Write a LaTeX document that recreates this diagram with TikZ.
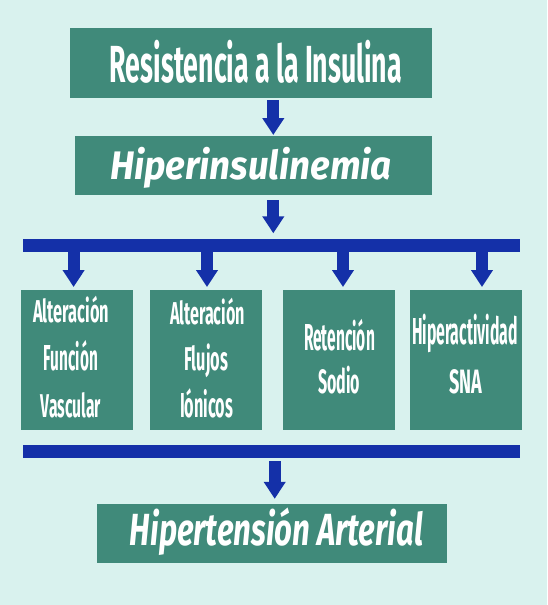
\documentclass[tikz,border=0pt]{standalone}
\usepackage{fontspec}
\usepackage{graphicx}
\setmainfont{Fira Sans}
\usetikzlibrary{arrows.meta}
\definecolor{bgc}{RGB}{217,242,238}
\definecolor{boxc}{RGB}{64,138,122}
\definecolor{barc}{RGB}{20,48,168}
\newcommand{\fitline}[4]{\resizebox{#1pt}{#2pt}{\smash{#4}\vphantom{#3}}}
\tikzset{
  box/.style={rectangle, fill=boxc, draw=none, inner sep=0pt, outer sep=0pt},
  smallbox/.style={box, minimum width=112pt, minimum height=140pt},
  bar/.style={rectangle, fill=barc, draw=none, inner sep=0pt, outer sep=0pt, minimum width=497pt, minimum height=13pt},
  txt/.style={text=white, inner sep=0pt, outer sep=0pt, anchor=base, font=\bfseries},
  itxt/.style={txt, font=\bfseries\itshape},
  arr/.style={draw=barc, line width=12pt, -{Triangle[width=21pt,length=17pt]}}
}
\begin{document}
\begin{tikzpicture}[x=1pt,y=-1pt]
\useasboundingbox (0,0) rectangle (547,605);
\fill[bgc] (0,0) rectangle (547,605);
% boxes
\node[box, minimum width=362pt, minimum height=70pt] (res) at (251,63) {};
\node[box, minimum width=357pt, minimum height=59pt] (hyp) at (253.5,165.5) {};
\node[bar] (bar1) at (271.5,245.8) {};
\node[smallbox] (b1) at (77,360) {};
\node[smallbox] (b2) at (206,360) {};
\node[smallbox] (b3) at (338.5,360) {};
\node[smallbox] (b4) at (466,360) {};
\node[bar] (bar2) at (271.75,451.9) {};
\node[box, minimum width=350pt, minimum height=59pt] (hta) at (272,533.3) {};
% texts
\node[txt] (tres) at (255.9,82.3) {\fitline{292}{39.6}{l}{Resistencia a la Insulina}};
\node[itxt] (thyp) at (250.9,179.3) {\fitline{281.7}{27.6}{H}{Hiperinsulinemia}};
\node[itxt] (thta) at (276.5,545) {\fitline{293}{31.2}{H}{Hipertensión Arterial}};
\node[txt] (t11) at (71,322) {\fitline{76}{24}{l}{Alteración}};
\node[txt] (t12) at (71,370) {\fitline{54}{25}{F}{Función}};
\node[txt] (t13) at (71,417) {\fitline{60}{25}{l}{Vascular}};
\node[txt] (t21) at (207.5,324) {\fitline{75}{24}{l}{Alteración}};
\node[txt] (t22) at (206,370) {\fitline{44}{25}{l}{Flujos}};
\node[txt] (t23) at (206.5,417) {\fitline{53}{24}{I}{Iónicos}};
\node[txt] (t31) at (339.5,350) {\fitline{71}{26}{R}{Retención}};
\node[txt] (t32) at (339,393) {\fitline{42}{24}{S}{Sodio}};
\node[txt] (t41) at (465,344) {\fitline{106}{26}{H}{Hiperactividad}};
\node[txt] (t42) at (465.5,393) {\fitline{33}{24}{S}{SNA}};
% arrow positions
\coordinate (x0) at (273.3,0);
\coordinate (x1) at (73.6,0);
\coordinate (x2) at (207,0);
\coordinate (x3) at (343,0);
\coordinate (x4) at (482,0);
\coordinate (x5) at (274.7,0);
% arrows
\draw[arr, shorten <=2pt, shorten >=1pt] (res.south -| x0) -- (hyp.north -| x0);
\draw[arr, shorten <=5pt, shorten >=6pt] (hyp.south -| x0) -- (bar1.north -| x0);
\draw[arr, shorten >=3pt] (bar1.south -| x1) -- (b1.north -| x1);
\draw[arr, shorten >=3pt] (bar1.south -| x2) -- (b2.north -| x2);
\draw[arr, shorten >=3pt] (bar1.south -| x3) -- (b3.north -| x3);
\draw[arr, shorten >=3pt] (bar1.south -| x4) -- (b4.north -| x4);
\draw[arr, shorten <=3pt, shorten >=5pt] (bar2.south -| x5) -- (hta.north -| x5);
\end{tikzpicture}
\end{document}
